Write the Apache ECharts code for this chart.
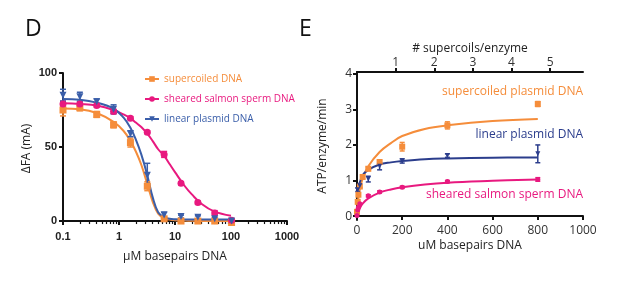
<!DOCTYPE html>
<html>
<head>
<meta charset="utf-8">
<script src="https://cdn.jsdelivr.net/npm/echarts@6/dist/echarts.min.js"></script>
<style>
  html, body { margin: 0; padding: 0; background: #fff; }
  #main { width: 617px; height: 306px; }
</style>
</head>
<body>
<div id="main"></div>
<script>
// panel D - binding (log x)
const xD = [0.1, 0.2, 0.4, 0.8, 1.6, 3.2, 6.4, 12.8, 25.6, 51.2, 102.4]
const supD = [75, 76.5, 72, 65, 53, 23.5, 1.5, 0, 0, 0, -1]
const supDErr = [4, 2, 2, 2, 3, 3, 1, 0, 0, 0, 0]
const salD = [79, 79, 78, 74, 69.5, 60, 45, 25.5, 12.5, 5.5, 0.5]
const salDErr = [2, 1.5, 1, 1.5, 1, 1, 2, 1, 1, 1.5, 1]
const linD = [85, 84, 80.5, 75.5, 59, 31, 4, 3, 2.5, 1.5, 0]
const linDErr = [4, 3, 2, 3, 2, 8, 2, 1, 1, 1, 0]
// fitted curves
const xDCurve = [0.1, 0.2, 0.4, 0.8, 1.2, 1.6, 2, 2.5, 3.2, 4, 5, 6.4, 8, 10, 15, 20, 30, 50, 100]
const supDCurve = [76, 75.5, 73, 67, 61, 54, 47, 38, 25, 13, 5, 2, 1, 0.5, 0.3, 0.2, 0.1, 0, 0]
const linDCurve = [82.5, 82, 80, 76, 70, 63, 55, 45, 31, 16, 6, 2.5, 1.5, 1.2, 1, 1, 1, 1, 1]
const salDCurve = [79.5, 79, 78, 75, 72, 69.5, 66.5, 63.5, 59, 54, 48.5, 44, 38.5, 33, 23.5, 18, 11.5, 6.5, 3.5]
const yTicksD = [0, 50, 100]

// panel E - ATPase
const xSupE = [0, 3.125, 6.25, 12.5, 25, 50, 100, 200, 400, 800]
const supE = [0.12, 0.4, 0.6, 0.83, 1.1, 1.33, 1.52, 1.95, 2.55, 3.15]
const supEErr = [0, 0, 0, 0, 0.05, 0.05, 0.05, 0.12, 0.1, 0.07]
const xLinE = [3.125, 12.5, 50, 100, 200, 400, 800]
const linE = [0.74, 0.85, 1.04, 1.4, 1.55, 1.7, 1.75]
const linEErr = [0.05, 0.05, 0.08, 0.1, 0.06, 0.05, 0.25]
const xSalE = [0, 3.125, 6.25, 12.5, 50, 100, 200, 400, 800]
const salE = [0.02, 0.17, 0.25, 0.35, 0.57, 0.68, 0.81, 0.97, 1.03]
const salEErr = [0, 0, 0, 0, 0.03, 0.03, 0.03, 0.03, 0.05]
const xECurve = [0, 6, 12.5, 25, 50, 100, 150, 200, 300, 400, 600, 800]
const supECurve = [0.05, 0.5, 0.75, 1.05, 1.4, 1.8, 2.05, 2.25, 2.45, 2.55, 2.67, 2.73]
const linECurve = [0.7, 0.85, 0.95, 1.15, 1.3, 1.45, 1.51, 1.55, 1.6, 1.62, 1.64, 1.65]
const salECurve = [0, 0.12, 0.22, 0.35, 0.5, 0.66, 0.75, 0.81, 0.89, 0.94, 0.99, 1.03]
const yTicksE = [0, 1, 2, 3, 4]
const topTicksE = [1, 2, 3, 4, 5]

const orange = '#f58d3b'
const magenta = '#e8197f'
const blueD = '#3a5ea9'
const navy = '#2b3d8c'

let zip = (xs, ys) => xs.map((x, i) => [x, ys[i]])
let zip3 = (xs, ys, es) => xs.map((x, i) => [x, ys[i], es[i]])

// error bars drawn through the axes
let errBars = (name, xi, yi, data, color, cap) => ({
  type: 'custom',
  name: name + ' err',
  xAxisIndex: xi,
  yAxisIndex: yi,
  silent: true,
  z: 3,
  data: data,
  renderItem: (params, api) => {
    let x = api.value(0), y = api.value(1), e = api.value(2)
    if (!e) return null
    let hi = api.coord([x, y + e])
    let lo = api.coord([x, y - e])
    let st = {stroke: color, lineWidth: 1.5}
    return {
      type: 'group',
      children: [
        {type: 'line', shape: {x1: hi[0], y1: hi[1], x2: lo[0], y2: lo[1]}, style: st},
        {type: 'line', shape: {x1: hi[0] - cap, y1: hi[1], x2: hi[0] + cap, y2: hi[1]}, style: st},
        {type: 'line', shape: {x1: lo[0] - cap, y1: lo[1], x2: lo[0] + cap, y2: lo[1]}, style: st}
      ]
    }
  }
})

let points = (name, xi, yi, data, color, symbol, size, rot) => ({
  type: 'line',
  name: name,
  xAxisIndex: xi,
  yAxisIndex: yi,
  data: data,
  symbol: symbol,
  symbolSize: size,
  symbolRotate: rot || 0,
  showAllSymbol: true,
  color: color,
  itemStyle: {color: color},
  lineStyle: {opacity: 0},
  z: 4
})

let curve = (name, xi, yi, data, color) => ({
  type: 'line',
  name: name + ' fit',
  xAxisIndex: xi,
  yAxisIndex: yi,
  data: data,
  symbol: 'none',
  smooth: 0.4,
  lineStyle: {color: color, width: 2},
  z: 2
})

const axisBlack = {lineStyle: {color: '#111', width: 2}}
const tickBlack = {show: true, inside: false, length: 4, lineStyle: {color: '#111', width: 2}}

let myChart = echarts.init(document.getElementById('main'))
let option = {
  animation: false,
  backgroundColor: '#fff',
  textStyle: {fontFamily: 'Open Sans'},
  grid: [
    {left: 63, right: 330, top: 73, bottom: 82},
    {left: 357, right: 34, top: 72, bottom: 86}
  ],
  legend: {
    orient: 'vertical',
    left: 144,
    top: 74,
    padding: 0,
    itemWidth: 14,
    itemHeight: 7,
    itemGap: 10,
    lineStyle: {opacity: 1, width: 2},
    textStyle: {fontSize: 10, fontFamily: 'Open Sans'},
    data: [
      {name: 'supercoiled DNA', textStyle: {color: orange}},
      {name: 'sheared salmon sperm DNA', textStyle: {color: magenta}},
      {name: 'linear plasmid DNA', textStyle: {color: blueD}}
    ]
  },
  xAxis: [
    {
      type: 'log', gridIndex: 0, logBase: 10, min: 0.1, max: 1000,
      name: 'μM basepairs DNA', nameLocation: 'middle', nameGap: 27,
      nameTextStyle: {fontSize: 12, color: '#222'},
      axisLine: axisBlack,
      axisTick: tickBlack,
      minorTick: {show: true, splitNumber: 9, length: 3, lineStyle: {color: '#111', width: 1.2}},
      splitLine: {show: false},
      axisLabel: {fontSize: 11, fontWeight: 'bold', fontFamily: 'Liberation Sans', color: '#222', margin: 7,
        formatter: v => String(v)}
    },
    {
      type: 'value', gridIndex: 1, min: 0, max: 1000, interval: 200,
      name: 'uM basepairs DNA', nameLocation: 'middle', nameGap: 20,
      nameTextStyle: {fontSize: 12, color: '#222'},
      axisLine: axisBlack, axisTick: tickBlack, splitLine: {show: false},
      axisLabel: {fontSize: 12, color: '#333', margin: 5, formatter: v => String(v)}
    },
    {
      type: 'value', gridIndex: 1, min: 0, max: 5.85, position: 'top',
      name: '# supercoils/enzyme', nameLocation: 'middle', nameGap: 17,
      nameTextStyle: {fontSize: 12, color: '#222'},
      axisLine: axisBlack,
      axisTick: Object.assign({customValues: topTicksE}, tickBlack),
      splitLine: {show: false},
      axisLabel: {customValues: topTicksE, fontSize: 12, color: '#333', margin: 3}
    }
  ],
  yAxis: [
    {
      type: 'value', gridIndex: 0, min: -2, max: 100,
      name: 'ΔFA (mA)', nameLocation: 'middle', nameGap: 30,
      nameTextStyle: {fontSize: 12, color: '#222'},
      axisLine: {show: true, lineStyle: {color: '#111', width: 2}},
      axisTick: Object.assign({customValues: yTicksD}, tickBlack),
      splitLine: {show: false},
      axisLabel: {customValues: yTicksD, fontSize: 11, fontWeight: 'bold', fontFamily: 'Liberation Sans', color: '#222', margin: 6}
    },
    {
      type: 'value', gridIndex: 1, min: -0.11, max: 4.05,
      name: 'ATP/enzyme/min', nameLocation: 'middle', nameGap: 28,
      nameTextStyle: {fontSize: 12, color: '#222'},
      axisLine: {show: true, lineStyle: {color: '#111', width: 2}},
      axisTick: Object.assign({customValues: yTicksE}, tickBlack),
      splitLine: {show: false},
      axisLabel: {customValues: yTicksE, fontSize: 12, color: '#333', margin: 5}
    }
  ],
  graphic: [
    {type: 'text', left: 25, top: 18, style: {text: 'D', fontSize: 23, fontFamily: 'Open Sans', fill: '#111'}},
    {type: 'text', left: 299, top: 18, style: {text: 'E', fontSize: 23, fontFamily: 'Open Sans', fill: '#111'}},
    {type: 'text', right: 34, top: 86, style: {text: 'supercoiled plasmid DNA', fontSize: 12, fontFamily: 'Open Sans', fill: orange}},
    {type: 'text', right: 34, top: 129, style: {text: 'linear plasmid DNA', fontSize: 12, fontFamily: 'Open Sans', fill: navy}},
    {type: 'text', right: 34, top: 189, style: {text: 'sheared salmon sperm DNA', fontSize: 12, fontFamily: 'Open Sans', fill: magenta}}
  ],
  series: [
    curve('supercoiled DNA', 0, 0, zip(xDCurve, supDCurve), orange),
    curve('sheared salmon sperm DNA', 0, 0, zip(xDCurve, salDCurve), magenta),
    curve('linear plasmid DNA', 0, 0, zip(xDCurve, linDCurve), blueD),
    errBars('supercoiled DNA', 0, 0, zip3(xD, supD, supDErr), orange, 3),
    errBars('sheared salmon sperm DNA', 0, 0, zip3(xD, salD, salDErr), magenta, 3),
    errBars('linear plasmid DNA', 0, 0, zip3(xD, linD, linDErr), blueD, 3),
    points('supercoiled DNA', 0, 0, zip(xD, supD), orange, 'rect', 7),
    points('sheared salmon sperm DNA', 0, 0, zip(xD, salD), magenta, 'circle', 7),
    points('linear plasmid DNA', 0, 0, zip(xD, linD), blueD, 'triangle', 7, 180),

    curve('supercoiled plasmid DNA', 1, 1, zip(xECurve, supECurve), orange),
    curve('linear plasmid DNA E', 1, 1, zip(xECurve, linECurve), navy),
    curve('sheared salmon sperm DNA E', 1, 1, zip(xECurve, salECurve), magenta),
    errBars('supercoiled plasmid DNA', 1, 1, zip3(xSupE, supE, supEErr), orange, 2.5),
    errBars('linear plasmid DNA E', 1, 1, zip3(xLinE, linE, linEErr), navy, 2.5),
    errBars('sheared salmon sperm DNA E', 1, 1, zip3(xSalE, salE, salEErr), magenta, 2.5),
    points('supercoiled plasmid DNA', 1, 1, zip(xSupE, supE), orange, 'rect', 6),
    points('linear plasmid DNA E', 1, 1, zip(xLinE, linE), navy, 'triangle', 5, 180),
    points('sheared salmon sperm DNA E', 1, 1, zip(xSalE, salE), magenta, 'circle', 5)
  ]
}
myChart.setOption(option)
</script>
</body>
</html>
